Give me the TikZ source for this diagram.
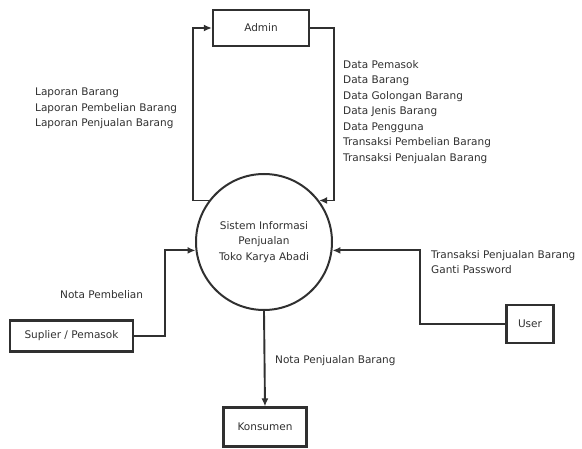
\documentclass[tikz,border=0pt]{standalone}
\usepackage{fontspec}
\setmainfont{DejaVu Sans}
\usetikzlibrary{arrows.meta}
\usetikzlibrary{positioning}
\definecolor{ink}{HTML}{303030}
\tikzset{entity/.style = {draw=ink, line width=2.2pt, text=ink, inner sep=0pt,
                          font=\fontsize{10.5}{15.5}\selectfont}}
\tikzset{flow/.style = {draw=ink, line width=1.9pt, -{Latex[length=8pt,width=7pt]}}}
\tikzset{lbl/.style = {text=ink, align=left, inner sep=0pt, anchor=north west,
                       font=\fontsize{10.5}{15.5}\selectfont}}

\begin{document}
\begin{tikzpicture}[x=1pt, y=-1pt]
      \useasboundingbox (0, 0) rectangle (582, 449);
      \node [entity, minimum width=96pt, minimum height=36pt] (admin) at (261, 28) {Admin};
      \node [entity, circle, line width=2pt, minimum size=136pt, align=center] (sys) at (264, 242)
            {Sistem Informasi\\Penjualan\\Toko Karya Abadi};
      \node [entity, minimum width=123pt, minimum height=31pt] (sup) at (71.5, 336) {Suplier / Pemasok};
      \node [entity, minimum width=47pt, minimum height=38pt] (user) at (530, 324) {User};
      \node [entity, minimum width=83pt, minimum height=39pt] (kon) at (265, 427) {Konsumen};
      \coordinate (lft) at (193, 100);
      \coordinate (rgt) at (334, 100);
      \coordinate (sp) at (165, 300);
      \coordinate (us) at (420, 290);
      \draw [flow] (sys.143) -| (lft) |- (admin.west);
      \draw [flow] (admin.east) -| (rgt) |- (sys.37);
      \draw [flow] (sup.east) -| (sp) |- (sys.187);
      \draw [flow] (user.west) -| (us) |- (sys.353);
      \draw [flow] (sys.south) -- (kon.north);
      \node [lbl] (lap) at (35, 88) {Laporan Barang\\Laporan Pembelian Barang\\Laporan Penjualan Barang};
      \node [lbl] (dat) at (343, 60) {Data Pemasok\\Data Barang\\Data Golongan Barang\\Data Jenis Barang\\
            Data Pengguna\\Transaksi Pembelian Barang\\Transaksi Penjualan Barang};
      \node [lbl] (npb) at (60, 290) {Nota Pembelian};
      \node [lbl] (trs) at (431, 250) {Transaksi Penjualan Barang\\Ganti Password};
      \node [lbl] (npj) at (275, 355) {Nota Penjualan Barang};
    \end{tikzpicture}
\end{document}
